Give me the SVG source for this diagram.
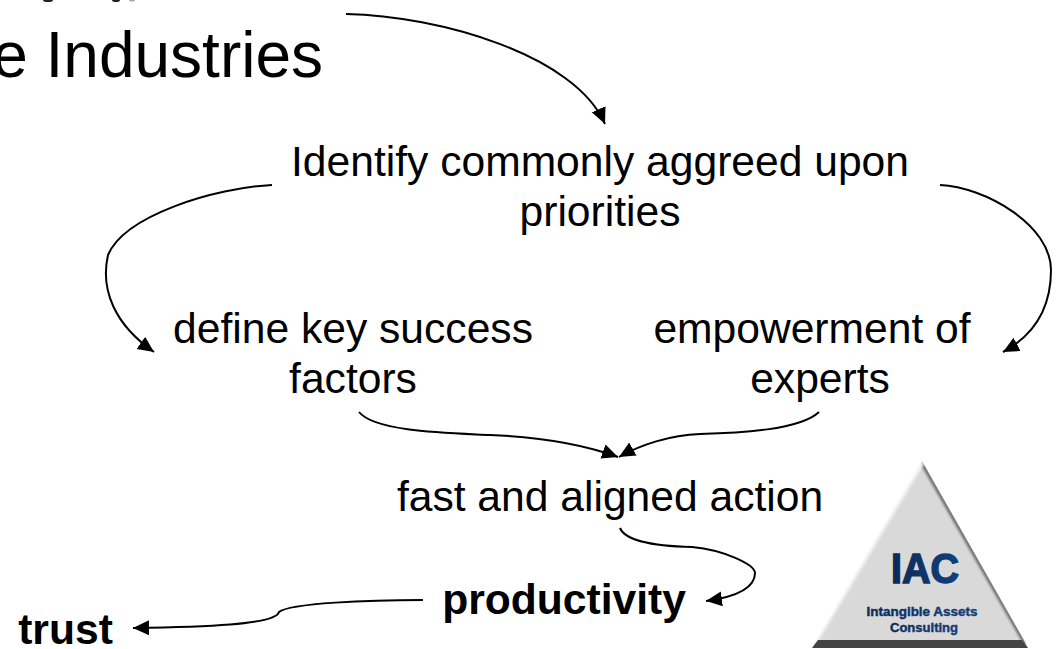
<svg xmlns="http://www.w3.org/2000/svg" width="1060" height="649" viewBox="0 0 1060 649">
<style>
text{font-family:"Liberation Sans",Arial,sans-serif;fill:#000;text-anchor:middle}
.n{font-size:42.6px}
.b{font-size:42.6px;font-weight:bold}
.c{fill:none;stroke:#000;stroke-width:2}
.logo{fill:url(#navy);stroke:url(#navy);font-weight:bold}
</style>
<defs>
<marker id="a" markerUnits="userSpaceOnUse" markerWidth="18" markerHeight="16" refX="16" refY="7.5" orient="auto"><path d="M0 0L16 7.5L0 15Z" fill="#000"/></marker>
<linearGradient id="navy" x1="0" x2="1" y1="0" y2="0"><stop offset="0" stop-color="#0b2a58"/><stop offset="1" stop-color="#12407c"/></linearGradient>
<filter id="soft" x="-10%" y="-10%" width="120%" height="120%"><feGaussianBlur stdDeviation="1.2"/></filter>
<clipPath id="triClip"><path d="M922 461L1029 649H811Z"/></clipPath>
</defs>
<rect width="1060" height="649" fill="#fff"/>
<g id="clipped-top" fill="#222"><ellipse cx="48" cy="0" rx="5" ry="2"/><ellipse cx="116" cy="0" rx="4" ry="2"/><ellipse cx="132" cy="0" rx="3" ry="1.5" fill="#aaa"/></g>
<g id="title"><text x="323" y="77" style="font-size:64px;text-anchor:end">e Industries</text></g>
<g id="connectors">
<path class="c" marker-end="url(#a)" d="M346 14C440 16 575 55 605 124"/>
<path class="c" marker-end="url(#a)" d="M272 185C215 188 125 215 108 255C100 290 115 325 154 352"/>
<path class="c" marker-end="url(#a)" d="M940 185C985 187 1051 225 1051 270C1051 300 1040 332 1003 352"/>
<path class="c" marker-end="url(#a)" d="M359 412C375 432 450 433 490 435C540 437 585 445 618 457"/>
<path class="c" marker-end="url(#a)" d="M819 412C800 430 740 433 700 434C670 435 640 445 619 457"/>
<path class="c" marker-end="url(#a)" d="M620 528C625 540 650 546 692 547C725 550 755 565 755 573C755 588 735 597 706 601"/>
<path class="c" marker-end="url(#a)" d="M423 600C370 600 290 603 279 612C276 625 200 627 133 628"/>
</g>
<g id="n1"><text class="n" x="600" y="176">Identify commonly aggreed upon</text><text class="n" x="600" y="226">priorities</text></g>
<g id="n2"><text class="n" x="353" y="343">define key success</text><text class="n" x="353" y="393">factors</text></g>
<g id="n3"><text class="n" x="812" y="343">empowerment of</text><text class="n" x="820" y="393">experts</text></g>
<g id="n4"><text class="n" x="610" y="511">fast and aligned action</text></g>
<g id="n5"><text class="b" x="564" y="614">productivity</text></g>
<g id="n6"><text class="b" x="65.5" y="644">trust</text></g>
<g id="logo">
<path d="M922 462L1028 648H812Z" fill="#d9d9d9"/>
<g clip-path="url(#triClip)">
<path d="M922 462L1026 644" fill="none" stroke="#777" stroke-width="5" filter="url(#soft)"/>
<path d="M922 462L814 644" fill="none" stroke="#f4f4f4" stroke-width="5" filter="url(#soft)"/>
<path d="M818 640H1022L1028 648H812Z" fill="#444"/>
</g>
<text class="logo" x="925" y="583" style="font-size:42px;stroke-width:1.5" textLength="68" lengthAdjust="spacingAndGlyphs">IAC</text>
<text class="logo" x="922" y="616" style="font-size:12.5px;stroke-width:.4" textLength="111" lengthAdjust="spacingAndGlyphs">Intangible Assets</text>
<text class="logo" x="924" y="632" style="font-size:12.5px;stroke-width:.4" textLength="68" lengthAdjust="spacingAndGlyphs">Consulting</text>
</g>
</svg>
